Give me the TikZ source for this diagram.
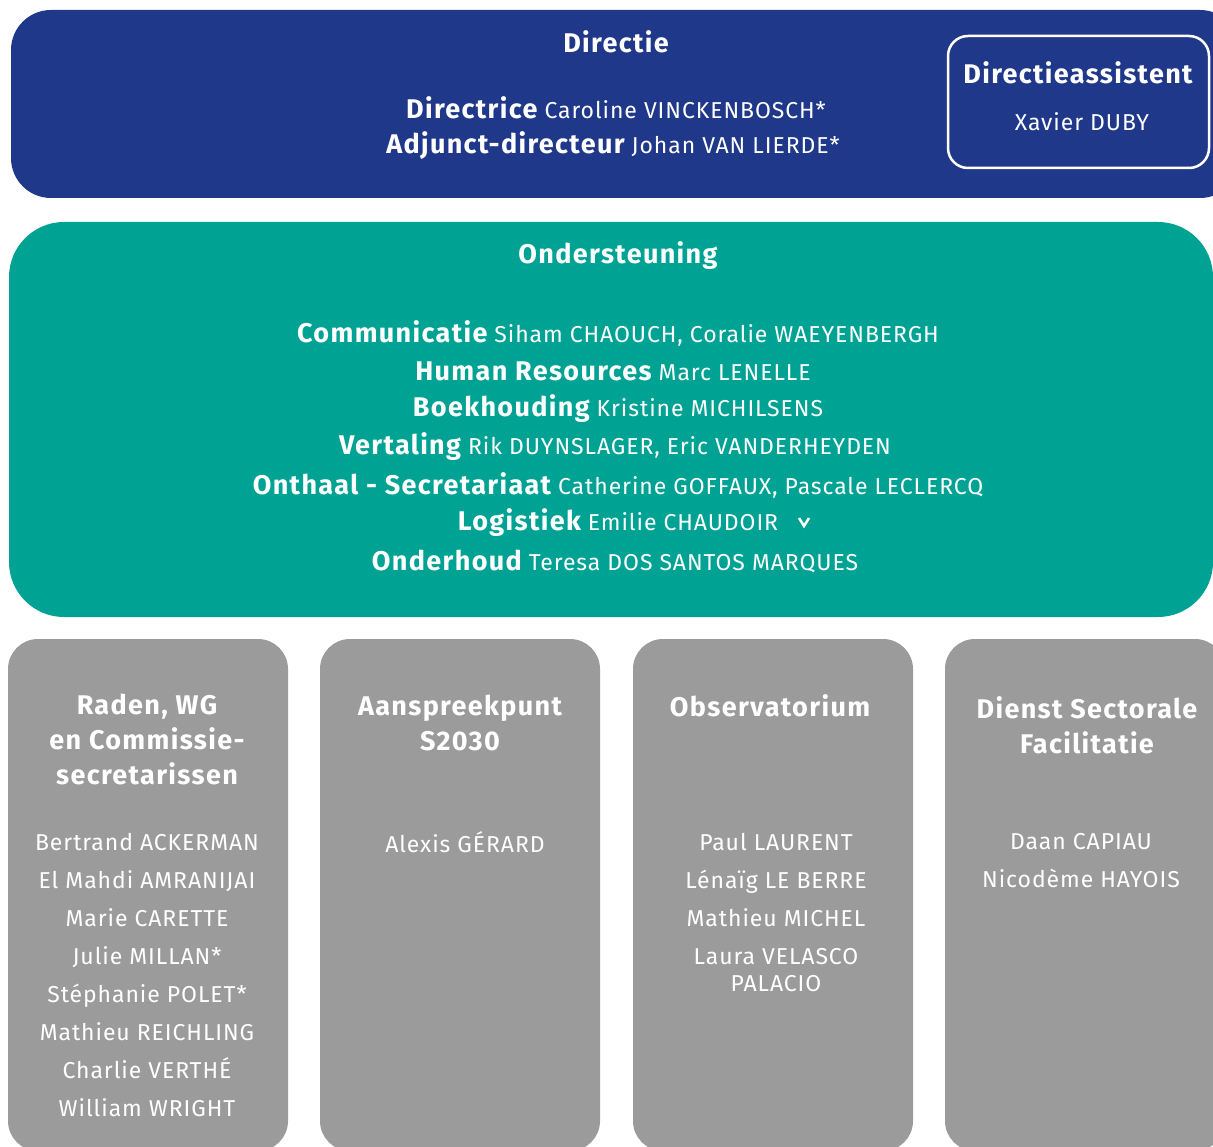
\documentclass[tikz,border=0pt]{standalone}
\usepackage{fontspec}
\setmainfont{Fira Sans}[LetterSpace=4, BoldFeatures={LetterSpace=5}]
\usepackage{tikz}
\usetikzlibrary{positioning}

\definecolor{dirblue}{RGB}{32,56,137}
\definecolor{steunteal}{RGB}{0,162,148}
\definecolor{dienstgray}{RGB}{155,155,155}

\newcommand{\kop}[1]{{\fontsize{27}{32}\selectfont\bfseries #1}}
\newcommand{\naam}[1]{{\fontsize{23}{28}\selectfont #1}}

\tikzset{
  blok/.style={inner sep=0pt, text=white, align=center, font=\fontsize{23}{28}\selectfont},
  naamlijst/.style={blok, font=\fontsize{23}{38}\selectfont},
  dienstkop/.style={blok, font=\fontsize{27}{35}\selectfont\bfseries},
}

\begin{document}
\begin{tikzpicture}[x=1pt,y=-1pt]
		\useasboundingbox (0,0) rectangle (1213,1147);

		% Directie
		\fill[dirblue, rounded corners=40] (11,10) rectangle (1240,198);
		\node[blok] (directie) at (616,42) {\kop{Directie}};
		\node[blok] (directrice) at (616,108) {\kop{Directrice} \naam{Caroline VINCKENBOSCH*}};
		\node[blok] (adjunct) at (613,146) {\kop{Adjunct-directeur} \naam{Johan VAN LIERDE*}};

		\draw[white, line width=2.5, rounded corners=20] (948,36) rectangle (1209,168);
		\node[blok] (assistent) at (1078,73) {\kop{Directieassistent}};
		\node[blok] (duby) at (1082,122) {\naam{Xavier DUBY}};

		% Ondersteuning
		\fill[steunteal, rounded corners=55] (9,222) rectangle (1213,617);
		\node[blok] (steun) at (618,256) {\kop{Ondersteuning}};
		\node[blok] (communicatie) at (618,333) {\kop{Communicatie} \naam{Siham CHAOUCH, Coralie WAEYENBERGH}};
		\node[blok] (hr) at (613,371) {\kop{Human Resources} \naam{Marc LENELLE}};
		\node[blok] (boekhouding) at (618,409) {\kop{Boekhouding} \naam{Kristine MICHILSENS}};
		\node[blok] (vertaling) at (615,447) {\kop{Vertaling} \naam{Rik DUYNSLAGER, Eric VANDERHEYDEN}};
		\node[blok] (onthaal) at (618,485) {\kop{Onthaal - Secretariaat} \naam{Catherine GOFFAUX, Pascale LECLERCQ}};
		\node[blok] (logistiek) at (618,523) {\kop{Logistiek} \naam{Emilie CHAUDOIR}};
		\draw[white, line width=2.5] (799,518) -- (804,526) -- (809,518);
		\node[blok] (onderhoud) at (615,561) {\kop{Onderhoud} \naam{Teresa DOS SANTOS MARQUES}};

		% Diensten
		\foreach \x in {8,320,633,945}
			\fill[dienstgray, rounded corners=30] (\x,639) rectangle +(280,512);

		\node[dienstkop] (raden) at (147,739) {Raden, WG\\en Commissie-\\secretarissen};
		\node[naamlijst, anchor=north] (secretarissen) at (147,833) {Bertrand ACKERMAN\\El Mahdi AMRANIJAI\\Marie CARETTE\\Julie MILLAN*\\St\'ephanie POLET*\\Mathieu REICHLING\\Charlie VERTH\'E\\William WRIGHT};

		\node[dienstkop] (s2030) at (460,723) {Aanspreekpunt\\S2030};
		\node[naamlijst] (gerard) at (465,842) {Alexis G\'ERARD};

		\node[blok] (observatorium) at (770,706) {\kop{Observatorium}};
		\node[naamlijst, anchor=north] (observanten) at (776,833) {Paul LAURENT\\L\'ena\"ig LE BERRE\\Mathieu MICHEL\\Laura VELASCO};
		\node[naamlijst] (palacio) at (776,984) {PALACIO};

		\node[dienstkop] (sectorale) at (1087,725) {Dienst Sectorale\\Facilitatie};
		\node[naamlijst, anchor=north] (facilitatoren) at (1081,833) {Daan CAPIAU\\Nicod\`eme HAYOIS};

	\end{tikzpicture}
\end{document}
